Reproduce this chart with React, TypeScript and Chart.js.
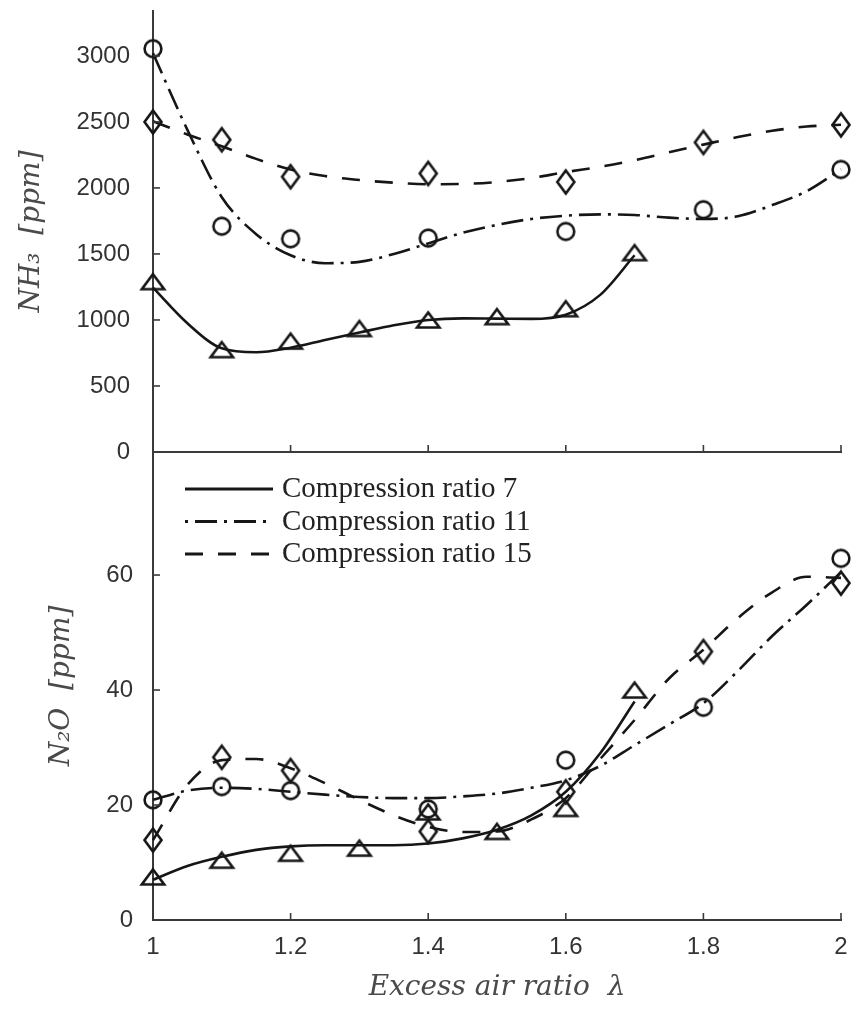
import React, { useEffect, useRef } from 'react';
import Chart from 'chart.js/auto';

// Excess air ratio λ of the measured points for each compression ratio
const LAMBDA_CR7 = [1, 1.1, 1.2, 1.3, 1.4, 1.5, 1.6, 1.7];
const LAMBDA_CR11 = [1, 1.1, 1.2, 1.4, 1.6, 1.8, 2];
const LAMBDA_CR15 = [1, 1.1, 1.2, 1.4, 1.6, 1.8, 2];

// NH3 measurements [ppm]
const NH3_CR7 = [1290, 775, 840, 935, 1000, 1025, 1085, 1510];
const NH3_CR11 = [3055, 1710, 1615, 1620, 1670, 1835, 2140];
const NH3_CR15 = [2500, 2365, 2085, 2110, 2045, 2345, 2478];

// N2O measurements [ppm]
const N2O_CR7 = [7.5, 10.4, 11.6, 12.5, 18.8, 15.4, 19.4, 40];
const N2O_CR11 = [20.9, 23.2, 22.5, 19.3, 27.8, 37, 62.9];
const N2O_CR15 = [13.9, 28.3, 26.0, 15.4, 22.3, 46.7, 58.6];

// λ grid of the fitted trend curves (CR 7 curves stop at λ = 1.7)
const FIT_LAMBDA = [1, 1.05, 1.1, 1.15, 1.2, 1.25, 1.3, 1.35, 1.4, 1.45, 1.5, 1.55, 1.6, 1.65, 1.7, 1.75, 1.8, 1.85, 1.9, 1.95, 2];

// fitted NH3 trends [ppm]
const FIT_NH3_CR7 = [1245, 975, 785, 755, 790, 848, 905, 960, 1000, 1012, 1010, 1008, 1040, 1190, 1490];
const FIT_NH3_CR11 = [3020, 2440, 1930, 1650, 1490, 1430, 1440, 1500, 1580, 1660, 1720, 1765, 1790, 1800, 1795, 1775, 1765, 1785, 1870, 1975, 2140];
const FIT_NH3_CR15 = [2505, 2405, 2315, 2220, 2140, 2090, 2060, 2040, 2028, 2030, 2045, 2075, 2120, 2160, 2210, 2270, 2328, 2385, 2433, 2465, 2478];

// fitted N2O trends [ppm]
const FIT_N2O_CR7 = [7.0, 9.4, 11.0, 12.2, 12.8, 13.0, 13.0, 13.0, 13.3, 14.2, 15.7, 18.2, 22.3, 29.0, 38.0];
const FIT_N2O_CR11 = [20.9, 22.5, 23.0, 22.8, 22.3, 21.8, 21.4, 21.2, 21.2, 21.5, 22.0, 23.0, 24.3, 26.8, 30.4, 34.0, 37.7, 43.3, 49.4, 54.8, 60.5];
const FIT_N2O_CR15 = [13.9, 23.5, 27.8, 28.0, 26.4, 23.8, 20.9, 18.2, 16.2, 15.3, 15.4, 17.5, 21.2, 28.0, 34.8, 42.0, 47.0, 52.5, 57.0, 59.7, 59.5];

const SERIES_LABELS = ['Compression ratio 7', 'Compression ratio 11', 'Compression ratio 15'];

// axis ranges and ticks
const X_RANGE = [1, 2];
const X_TICKS = [1, 1.2, 1.4, 1.6, 1.8, 2];
const NH3_RANGE = [0, 3340];
const NH3_TICKS = [0, 500, 1000, 1500, 2000, 2500, 3000];
const N2O_RANGE = [0, 81.4];
const N2O_TICKS = [0, 20, 40, 60];

const INK = '#161616';
const AXIS_COLOR = '#3a3a3a';
const TICK_TEXT = '#333333';
const TITLE_TEXT = '#4a4a4a';
const DASHES = [[], [22, 7, 3, 7], [18, 15]];
const LEGEND_DASH_OFFSET = [0, 29, 0];
const MARKER_KINDS = ['triangle', 'circle', 'diamond'];

const zip = (xs: number[], ys: number[]) => ys.map((y, i) => ({ x: xs[i], y }));

// open marker symbols drawn once on small canvases
function makeMarker(kind: string): HTMLCanvasElement {
  const c = document.createElement('canvas');
  c.width = 32;
  c.height = 32;
  const g = c.getContext('2d')!;
  g.strokeStyle = INK;
  g.lineWidth = 2.6;
  g.translate(16, 16);
  g.beginPath();
  if (kind === 'circle') {
    g.arc(0, 0, 8.4, 0, Math.PI * 2);
  } else if (kind === 'triangle') {
    g.moveTo(0, -7.5);
    g.lineTo(11.2, 7.5);
    g.lineTo(-11.2, 7.5);
    g.closePath();
  } else {
    g.moveTo(0, -11.5);
    g.lineTo(8.5, 0);
    g.lineTo(0, 11.5);
    g.lineTo(-8.5, 0);
    g.closePath();
  }
  g.stroke();
  return c;
}

function buildDatasets(fits: number[][], measured: number[][], markers: HTMLCanvasElement[]) {
  const lambdas = [LAMBDA_CR7, LAMBDA_CR11, LAMBDA_CR15];
  const sets: any[] = [];
  SERIES_LABELS.forEach((label, i) => {
    sets.push({
      label,
      data: zip(FIT_LAMBDA, fits[i]),
      borderColor: INK,
      borderWidth: 2.6,
      borderDash: DASHES[i],
      pointRadius: 0,
      cubicInterpolationMode: 'monotone',
      fill: false,
      clip: false,
    });
    sets.push({
      label: label + ' data',
      data: zip(lambdas[i], measured[i]),
      showLine: false,
      pointStyle: markers[i],
      pointRadius: 10,
      borderColor: INK,
      backgroundColor: 'transparent',
      clip: false,
    });
  });
  return sets;
}

// tick marks drawn on the inner side of both axes
const innerTicks = {
  id: 'innerTicks',
  afterDraw(chart: any) {
    const { ctx, chartArea, scales } = chart;
    const len = 7;
    ctx.save();
    ctx.strokeStyle = AXIS_COLOR;
    ctx.lineWidth = 1.6;
    for (const t of scales.x.ticks) {
      const px = scales.x.getPixelForValue(t.value);
      ctx.beginPath();
      ctx.moveTo(px, chartArea.bottom);
      ctx.lineTo(px, chartArea.bottom - len);
      ctx.stroke();
    }
    for (const t of scales.y.ticks) {
      const py = scales.y.getPixelForValue(t.value);
      ctx.beginPath();
      ctx.moveTo(chartArea.left, py);
      ctx.lineTo(chartArea.left + len, py);
      ctx.stroke();
    }
    ctx.restore();
  },
};

// line-style legend in the upper left of the N2O panel
const curveLegend = {
  id: 'curveLegend',
  afterDraw(chart: any) {
    const { ctx, chartArea } = chart;
    const x0 = chartArea.left + 32;
    const x1 = chartArea.left + 120;
    ctx.save();
    SERIES_LABELS.forEach((label, i) => {
      const yLine = chartArea.top + 37 + i * 32.5;
      ctx.strokeStyle = INK;
      ctx.lineWidth = 3.2;
      ctx.setLineDash(DASHES[i]);
      ctx.lineDashOffset = LEGEND_DASH_OFFSET[i];
      ctx.beginPath();
      ctx.moveTo(x0, yLine);
      ctx.lineTo(x1, yLine);
      ctx.stroke();
      ctx.setLineDash([]);
      ctx.fillStyle = '#222';
      ctx.font = '29px "Liberation Serif"';
      ctx.textBaseline = 'alphabetic';
      ctx.textAlign = 'left';
      ctx.fillText(label, chartArea.left + 129, yLine + 8);
    });
    ctx.restore();
  },
};

const tickFont = { family: '"Liberation Sans", Arial, sans-serif', size: 24 };
const titleFont = { family: '"DejaVu Serif", serif', size: 28, style: 'italic' as const };

// keep the plot frame fixed: no extra room reserved for overhanging labels
const clearPadding = (s: any) => {
  s.paddingTop = 0;
  s.paddingBottom = 0;
  s.paddingLeft = 0;
  s.paddingRight = 0;
};

function xScale(showLabels: boolean, height: number) {
  return {
    type: 'linear',
    min: X_RANGE[0],
    max: X_RANGE[1],
    afterBuildTicks: (s: any) => {
      s.ticks = X_TICKS.map((v) => ({ value: v }));
    },
    afterFit: (s: any) => {
      s.height = height;
      clearPadding(s);
    },
    grid: { display: false, drawTicks: false },
    border: { display: true, color: AXIS_COLOR, width: 2 },
    ticks: {
      display: showLabels,
      font: tickFont,
      color: TICK_TEXT,
      padding: 13,
      maxRotation: 0,
      callback: (v: number) => String(v),
    },
    title: {
      display: showLabels,
      text: 'Excess air ratio  λ',
      font: titleFont,
      color: TITLE_TEXT,
      padding: { top: 0, bottom: 5 },
    },
  };
}

function yScale(range: number[], ticks: number[], title: string, titlePad: number, labelPad: number) {
  return {
    type: 'linear',
    min: range[0],
    max: range[1],
    afterBuildTicks: (s: any) => {
      s.ticks = ticks.map((v) => ({ value: v }));
    },
    afterFit: (s: any) => {
      s.width = 153;
      clearPadding(s);
    },
    grid: { display: false, drawTicks: false },
    border: { display: true, color: AXIS_COLOR, width: 2 },
    ticks: {
      font: tickFont,
      color: TICK_TEXT,
      padding: labelPad,
      callback: (v: number) => String(v),
    },
    title: {
      display: true,
      text: title,
      font: titleFont,
      color: TITLE_TEXT,
      padding: { top: titlePad, bottom: 0 },
    },
  };
}

function baseOptions(layoutTop: number) {
  return {
    responsive: false,
    animation: false,
    events: [],
    layout: { padding: { top: layoutTop, right: 14, bottom: 0, left: 0 } },
    plugins: { legend: { display: false }, tooltip: { enabled: false } },
  };
}

export default function App() {
  const topRef = useRef<HTMLCanvasElement>(null);
  const bottomRef = useRef<HTMLCanvasElement>(null);

  useEffect(() => {
    const markers = MARKER_KINDS.map(makeMarker);

    const nh3 = new Chart(topRef.current!, {
      type: 'line',
      data: {
        datasets: buildDatasets([FIT_NH3_CR7, FIT_NH3_CR11, FIT_NH3_CR15], [NH3_CR7, NH3_CR11, NH3_CR15], markers),
      },
      options: {
        ...baseOptions(7),
        scales: {
          x: xScale(false, 28),
          y: yScale(NH3_RANGE, NH3_TICKS, 'NH₃  [ppm]', 15, 23),
        },
      } as any,
      plugins: [innerTicks],
    });

    const n2o = new Chart(bottomRef.current!, {
      type: 'line',
      data: {
        datasets: buildDatasets([FIT_N2O_CR7, FIT_N2O_CR11, FIT_N2O_CR15], [N2O_CR7, N2O_CR11, N2O_CR15], markers),
      },
      options: {
        ...baseOptions(12),
        scales: {
          x: xScale(true, 90),
          y: yScale(N2O_RANGE, N2O_TICKS, 'N₂O  [ppm]', 45, 20),
        },
      } as any,
      plugins: [innerTicks, curveLegend],
    });

    return () => {
      nh3.destroy();
      n2o.destroy();
    };
  }, []);

  return (
    <div style={{ position: 'absolute', left: 0, top: 0, width: 855, height: 1010, background: '#fff' }}>
      <canvas ref={topRef} width={855} height={480} style={{ position: 'absolute', left: 0, top: 0 }} />
      <canvas ref={bottomRef} width={855} height={570} style={{ position: 'absolute', left: 0, top: 440 }} />
    </div>
  );
}
